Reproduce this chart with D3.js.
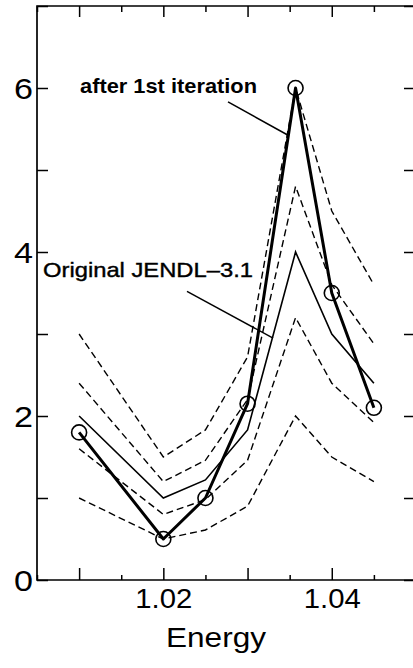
<!DOCTYPE html>
<html>
<head>
<meta charset="utf-8">
<script src="https://cdn.jsdelivr.net/npm/d3@7"></script>
<style>
  html, body { margin: 0; padding: 0; background: #fff; }
  svg { display: block; }
  text { font-family: "Liberation Sans", Arial, Helvetica, sans-serif; fill: #000; }
</style>
</head>
<body>
<svg id="chart" width="413" height="668"></svg>
<script>
// Energy grid of the evaluated points
const energy = [1.010, 1.020, 1.025, 1.030, 1.0357, 1.040, 1.045];

// Original JENDL-3.1 values
const jendl31 = [2.0, 1.0, 1.22, 1.83, 4.0, 3.0, 2.4];

// Values after the 1st iteration (circles)
const afterFirst = [1.8, 0.5, 1.0, 2.15, 6.0, 3.5, 2.1];

// Dashed uncertainty envelopes around the original evaluation
const bandOuterHigh = [3.0, 1.5, 1.83, 2.72, 6.0, 4.5, 3.6];
const bandInnerHigh = [2.4, 1.2, 1.46, 2.2, 4.8, 3.6, 2.88];
const bandInnerLow  = [1.6, 0.8, 0.98, 1.46, 3.2, 2.4, 1.92];
const bandOuterLow  = [1.0, 0.5, 0.61, 0.9, 2.0, 1.5, 1.2];

// Axis ticks and labels
const yTickValues = [0, 1, 2, 3, 4, 5, 6, 7];
const yLabelValues = [0, 2, 4, 6];
const xLabelValues = [1.02, 1.04];
const xLabelText = ["1.02", "1.04"];
const xAxisTitle = "Energy";
const labelAfter = "after 1st iteration";
const labelOriginal = "Original JENDL\u20133.1";

const svg = d3.select("#chart");

const x = d3.scaleLinear().domain([1.005, 1.05]).range([37, 416]);
const y = d3.scaleLinear().domain([0, 7]).range([580, 6]);

const xTicks = d3.range(1005, 1051, 5).map(v => v / 1000);
const isMajorX = v => Math.abs(Math.round(v * 100) - v * 100) < 1e-6;

// Frame
svg.append("path")
  .attr("d", `M${x(1.05)},${y(7)} H${x(1.005)} V${y(0)} H${x(1.05)}`)
  .attr("fill", "none").attr("stroke", "#000").attr("stroke-width", 1.7);

// Left axis: inward ticks, labels at even values
const yLeft = d3.axisLeft(y).tickValues(yTickValues)
  .tickSizeInner(-11).tickSizeOuter(0).tickPadding(4)
  .tickFormat(d => yLabelValues.includes(d) ? String(d) : "");
const gLeft = svg.append("g").attr("transform", `translate(${x(1.005)},0)`).call(yLeft);

// Right axis: inward ticks only
const yRight = d3.axisRight(y).tickValues(yTickValues)
  .tickSizeInner(-12).tickSizeOuter(0).tickFormat("");
const gRight = svg.append("g").attr("transform", `translate(${x(1.05)},0)`).call(yRight);

// Bottom axis: major ticks every 0.01, minor every 0.005
const xBottom = d3.axisBottom(x).tickValues(xTicks)
  .tickSizeInner(-12).tickSizeOuter(0).tickPadding(8)
  .tickFormat(d => {
    const i = xLabelValues.findIndex(v => Math.abs(v - d) < 1e-9);
    return i >= 0 ? xLabelText[i] : "";
  });
const gBottom = svg.append("g").attr("transform", `translate(0,${y(0)})`).call(xBottom);
gBottom.selectAll(".tick line").attr("y2", d => isMajorX(d) ? -12 : -5);

// Top axis: ticks only
const xTop = d3.axisTop(x).tickValues(xTicks)
  .tickSizeInner(-11).tickSizeOuter(0).tickFormat("");
const gTop = svg.append("g").attr("transform", `translate(0,${y(7)})`).call(xTop);
gTop.selectAll(".tick line").attr("y2", d => isMajorX(d) ? 11 : 6);

[gLeft, gRight, gBottom, gTop].forEach(g => {
  g.select(".domain").remove();
  g.selectAll(".tick line").attr("stroke", "#000").attr("stroke-width", 1.5);
  g.selectAll(".tick text")
    .style("font-family", "'Liberation Sans', Arial, Helvetica, sans-serif")
    .attr("fill", "#000");
});
gLeft.selectAll(".tick text").style("font-size", "30px").attr("dy", "0.36em")
  .attr("textLength", d => yLabelValues.includes(d) ? 19 : null)
  .attr("lengthAdjust", "spacingAndGlyphs");
gBottom.selectAll(".tick text").style("font-size", "28px")
  .attr("textLength", d => xLabelValues.some(v => Math.abs(v - d) < 1e-9) ? 57 : null)
  .attr("lengthAdjust", "spacingAndGlyphs");

const line = d3.line().x(d => x(d[0])).y(d => y(d[1]));
const zip = vals => energy.map((e, i) => [e, vals[i]]);

// Dashed envelopes
[bandOuterHigh, bandInnerHigh, bandInnerLow, bandOuterLow].forEach(b => {
  svg.append("path").datum(zip(b)).attr("d", line)
    .attr("fill", "none").attr("stroke", "#000")
    .attr("stroke-width", 1.4).attr("stroke-dasharray", "7,4");
});

// Original evaluation
svg.append("path").datum(zip(jendl31)).attr("d", line)
  .attr("fill", "none").attr("stroke", "#000").attr("stroke-width", 1.6);

// After 1st iteration
svg.append("path").datum(zip(afterFirst)).attr("d", line)
  .attr("fill", "none").attr("stroke", "#000").attr("stroke-width", 3)
  .attr("stroke-linejoin", "round");

svg.append("g").selectAll("circle").data(zip(afterFirst)).join("circle")
  .attr("cx", d => x(d[0])).attr("cy", d => y(d[1])).attr("r", 7.5)
  .attr("fill", "none").attr("stroke", "#000").attr("stroke-width", 1.6);

// Annotations with leader lines (data coordinates)
const leaders = [
  { from: [1.02768, 5.83], to: [1.03471, 5.43] },
  { from: [1.02281, 3.52], to: [1.03303, 2.95] }
];
leaders.forEach(l => {
  svg.append("line")
    .attr("x1", x(l.from[0])).attr("y1", y(l.from[1]))
    .attr("x2", x(l.to[0])).attr("y2", y(l.to[1]))
    .attr("stroke", "#000").attr("stroke-width", 1.5);
});

svg.append("text").attr("x", 80).attr("y", 93)
  .style("font-size", "21px").style("font-weight", "bold")
  .attr("textLength", 177).attr("lengthAdjust", "spacingAndGlyphs")
  .text(labelAfter);

svg.append("text").attr("x", 43).attr("y", 277)
  .style("font-size", "21px")
  .attr("stroke", "#000").attr("stroke-width", 0.4)
  .attr("textLength", 210).attr("lengthAdjust", "spacingAndGlyphs")
  .text(labelOriginal);

svg.append("text").attr("x", 166).attr("y", 647)
  .style("font-size", "28px")
  .attr("textLength", 100).attr("lengthAdjust", "spacingAndGlyphs")
  .text(xAxisTitle);
</script>
</body>
</html>
